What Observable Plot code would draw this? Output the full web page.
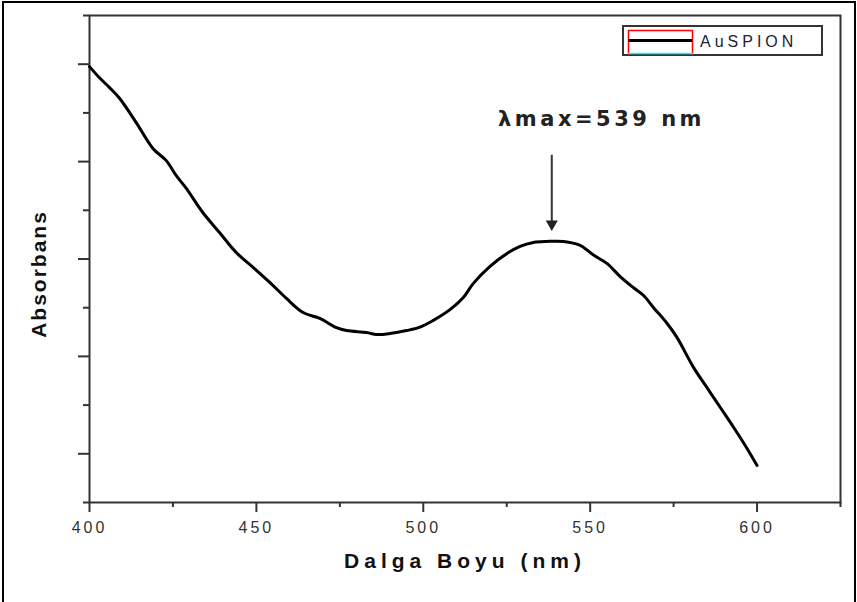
<!DOCTYPE html>
<html>
<head>
<meta charset="utf-8">
<script src="https://cdn.jsdelivr.net/npm/d3@7"></script>
<script src="https://cdn.jsdelivr.net/npm/@observablehq/plot@0.6"></script>
<style>
  html, body { margin: 0; padding: 0; background: #fff; }
  svg { display: block; }
</style>
</head>
<body>
<div id="chart"></div>
<script>
const wavelength = [400, 403, 406, 409, 414, 419, 423, 426, 429, 434, 439, 444, 449, 454, 459, 464, 469, 474, 477, 483, 486, 490, 495, 499, 503, 508, 512, 515, 520, 525, 529, 533, 537, 542, 547, 551, 555, 559, 563, 566, 569, 573, 576, 581, 585, 589, 593, 597, 600];
const absorbance = [1.195, 1.172, 1.152, 1.130, 1.080, 1.027, 1.002, 0.971, 0.945, 0.895, 0.854, 0.813, 0.783, 0.752, 0.719, 0.690, 0.678, 0.659, 0.653, 0.649, 0.645, 0.647, 0.653, 0.660, 0.674, 0.696, 0.721, 0.750, 0.785, 0.811, 0.826, 0.834, 0.836, 0.836, 0.828, 0.808, 0.791, 0.764, 0.741, 0.725, 0.700, 0.668, 0.639, 0.577, 0.536, 0.495, 0.454, 0.411, 0.376];
const xMajorTicks = [400, 450, 500, 550, 600];
const xMinorTicks = [425, 475, 525, 575, 625];
const yMajorTicks = [0.4, 0.6, 0.8, 1.0, 1.2];
const yMinorTicks = [0.3, 0.5, 0.7, 0.9, 1.1, 1.3];
const xTitle = "Dalga Boyu (nm)";
const yTitle = "Absorbans";
const seriesName = "AuSPION";
const peakLabel = "λmax=539 nm";
const peakWavelength = 538.5;
const arrowFrom = 1.013;
const arrowTo = 0.872;
const labelX = 522.4;
const labelY = 1.074;

const data = wavelength.map((w, i) => ({w, a: absorbance[i]}));
const axisColor = "#333";

const svg = Plot.plot({
  width: 857,
  height: 602,
  marginLeft: 89,
  marginRight: 17,
  marginTop: 15,
  marginBottom: 100,
  style: {background: "#fff", overflow: "visible"},
  x: {domain: [400, 625], label: null},
  y: {domain: [0.3, 1.3], label: null},
  marks: [
    Plot.frame({stroke: axisColor, strokeWidth: 2}),
    Plot.axisX({ticks: xMajorTicks, tickSize: 10, tickPadding: 9, stroke: axisColor, strokeWidth: 2,
      fontSize: 16, fontFamily: "Liberation Sans, Arial, sans-serif", fill: "#333", label: null}),
    Plot.axisX({ticks: xMinorTicks, tickSize: 5, stroke: axisColor, strokeWidth: 2, tickFormat: () => "", label: null}),
    Plot.axisY({ticks: yMajorTicks, tickSize: 11, stroke: axisColor, strokeWidth: 2, tickFormat: () => "", label: null}),
    Plot.axisY({ticks: yMinorTicks, tickSize: 6, stroke: axisColor, strokeWidth: 2, tickFormat: () => "", label: null}),
    Plot.line(data, {x: "w", y: "a", stroke: "#000", strokeWidth: 3, strokeLinejoin: "round", curve: "catmull-rom"}),
    Plot.ruleX([peakWavelength], {x: d => d, y1: () => arrowFrom, y2: () => arrowTo, stroke: "#333", strokeWidth: 2}),
    Plot.dot([peakWavelength], {x: d => d, y: () => arrowTo, symbol: "triangle", rotate: 180, r: 4.5, fill: "#222", stroke: "none"}),
    Plot.text([peakLabel], {x: () => labelX, y: () => labelY, text: d => d, textAnchor: "start", lineAnchor: "bottom",
      fontSize: 21, fontWeight: "bold", fontFamily: "DejaVu Sans, sans-serif", fill: "#222"}),
    Plot.text([xTitle], {frameAnchor: "bottom", dy: 65, text: d => d, fontSize: 21, fontWeight: "bold",
      fontFamily: "Liberation Sans, Arial, sans-serif", fill: "#111"})
  ]
});

const s = d3.select(svg);
s.selectAll('g[aria-label="x-axis tick label"] text').style("letter-spacing", "3px");
s.selectAll('g[aria-label="text"] text').style("white-space", "pre");
s.selectAll('g[aria-label="text"] text').filter(function() { return this.textContent === xTitle; }).style("letter-spacing", "5px");
s.selectAll('g[aria-label="text"] text').filter(function() { return this.textContent === peakLabel; }).style("letter-spacing", "3.5px");

// y-axis title
s.append("text").attr("transform", "translate(46,274) rotate(-90)").attr("text-anchor", "middle")
  .attr("font-family", "Liberation Sans, Arial, sans-serif").attr("font-size", 21).attr("font-weight", "bold")
  .attr("fill", "#111").style("letter-spacing", "2px").text(yTitle);

// outer border
s.append("path").attr("d", "M3,602V2H855V602").attr("fill", "none").attr("stroke", "#000").attr("stroke-width", 2);

// legend
const lg = s.append("g");
lg.append("rect").attr("x", 623).attr("y", 26).attr("width", 199).attr("height", 29)
  .attr("fill", "#fff").attr("stroke", "#333").attr("stroke-width", 2);
lg.append("path").attr("d", "M628.5,55V30.5H692.5V55").attr("fill", "none").attr("stroke", "#f00").attr("stroke-width", 1.5);
lg.append("line").attr("x1", 628).attr("x2", 693).attr("y1", 53.5).attr("y2", 53.5).attr("stroke", "#0ff").attr("stroke-width", 1.5);
lg.append("line").attr("x1", 628).attr("x2", 692).attr("y1", 40.5).attr("y2", 40.5).attr("stroke", "#000").attr("stroke-width", 3);
lg.append("text").attr("x", 700).attr("y", 47).attr("text-anchor", "start").text(seriesName)
  .attr("font-family", "Liberation Sans, Arial, sans-serif").attr("font-size", 16).attr("fill", "#223")
  .style("letter-spacing", "4px");

document.getElementById("chart").appendChild(svg);
</script>
</body>
</html>
